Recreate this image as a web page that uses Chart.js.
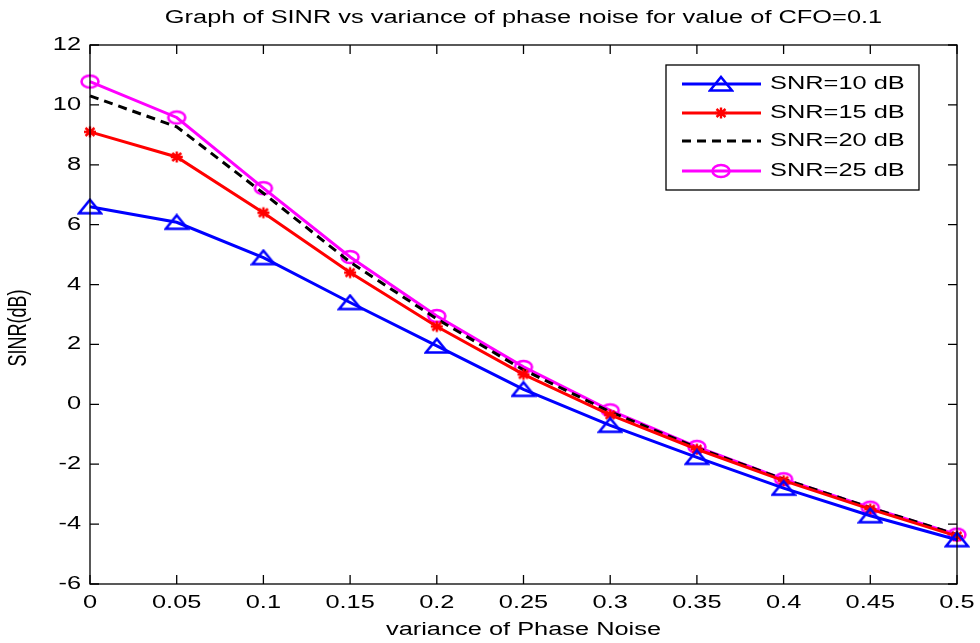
<!DOCTYPE html>
<html>
<head>
<meta charset="utf-8">
<script src="https://cdn.jsdelivr.net/npm/chart.js@4/dist/chart.umd.min.js"></script>
<style>
  html, body { margin: 0; padding: 0; background: #fff; }
  #wrap { width: 980px; height: 643px; }
</style>
</head>
<body>
<div id="wrap"><canvas id="myChart" width="980" height="643"></canvas></div>
<script>
// values
const phaseVar = [0, 0.05, 0.1, 0.15, 0.2, 0.25, 0.3, 0.35, 0.4, 0.45, 0.5];
const snr10 = [6.6, 6.08, 4.9, 3.4, 1.95, 0.5, -0.7, -1.77, -2.8, -3.72, -4.52];
const snr15 = [9.1, 8.26, 6.4, 4.4, 2.6, 1.0, -0.35, -1.5, -2.55, -3.5, -4.4];
const snr20 = [10.3, 9.27, 7.05, 4.75, 2.85, 1.15, -0.25, -1.45, -2.5, -3.45, -4.35];
const snr25 = [10.78, 9.58, 7.22, 4.92, 2.95, 1.25, -0.2, -1.42, -2.5, -3.45, -4.35];
const seriesLabels = ["SNR=10 dB", "SNR=15 dB", "SNR=20 dB", "SNR=25 dB"];
const xTicks = [0, 0.05, 0.1, 0.15, 0.2, 0.25, 0.3, 0.35, 0.4, 0.45, 0.5];
const yTicks = [-6, -4, -2, 0, 2, 4, 6, 8, 10, 12];
const xTickLabels = ["0", "0.05", "0.1", "0.15", "0.2", "0.25", "0.3", "0.35", "0.4", "0.45", "0.5"];

const FONT = "Liberation Sans, Arial, sans-serif";
const TXT = "18px " + FONT;
const SX = 1.41; // the figure's text is stretched sideways

function makeMarker(kind, color) {
  const c = document.createElement("canvas");
  // size first: resizing a canvas resets its context state
  if (kind === "tri") { c.width = 26; c.height = 18; }
  else if (kind === "circ") { c.width = 24; c.height = 18; }
  else { c.width = 16; c.height = 14; }
  const g = c.getContext("2d");
  g.strokeStyle = color;
  g.fillStyle = color;
  g.lineWidth = 2.6;
  g.beginPath();
  if (kind === "tri") {
    g.moveTo(13, 2); g.lineTo(24, 15.5); g.lineTo(2, 15.5); g.closePath();
  } else if (kind === "circ") {
    g.ellipse(12, 9, 8.5, 6, 0, 0, Math.PI * 2);
  } else {
    g.lineWidth = 2.4;
    g.moveTo(2, 7); g.lineTo(14, 7);
    g.moveTo(8, 1.5); g.lineTo(8, 12.5);
    g.moveTo(3.5, 3); g.lineTo(12.5, 11);
    g.moveTo(12.5, 3); g.lineTo(3.5, 11);
  }
  g.stroke();
  return c;
}

const triMark = makeMarker("tri", "#0000ff");
const starMark = makeMarker("star", "#ff0000");
const circMark = makeMarker("circ", "#ff00ff");

function stretchText(ctx, txt, x, y, align, sx, rot) {
  ctx.save();
  ctx.translate(x, y);
  ctx.scale(sx, 1);
  if (rot) ctx.rotate(rot);
  ctx.font = TXT;
  ctx.textAlign = align;
  ctx.textBaseline = "middle";
  ctx.fillStyle = "#000";
  ctx.fillText(txt, 0, 0);
  ctx.restore();
}

const framePlugin = {
  id: "frame",
  afterDraw(chart) {
    const ctx = chart.ctx;
    const a = chart.chartArea;
    const xs = chart.scales.x, ys = chart.scales.y;
    ctx.save();
    ctx.strokeStyle = "#000";
    ctx.lineWidth = 1.3;
    ctx.strokeRect(a.left, a.top, a.right - a.left, a.bottom - a.top);
    ctx.beginPath();
    yTicks.forEach(function (v) {
      const py = ys.getPixelForValue(v);
      ctx.moveTo(a.left, py); ctx.lineTo(a.left + 9, py);
      ctx.moveTo(a.right, py); ctx.lineTo(a.right - 9, py);
    });
    xTicks.forEach(function (v) {
      const px = xs.getPixelForValue(v);
      ctx.moveTo(px, a.bottom); ctx.lineTo(px, a.bottom - 9);
      ctx.moveTo(px, a.top); ctx.lineTo(px, a.top + 9);
    });
    ctx.stroke();
    ctx.restore();

    yTicks.forEach(function (v) {
      stretchText(ctx, String(v), a.left - 9, ys.getPixelForValue(v), "right", SX);
    });
    xTicks.forEach(function (v, i) {
      stretchText(ctx, xTickLabels[i], xs.getPixelForValue(v), a.bottom + 19, "center", SX);
    });

    stretchText(ctx, "Graph of SINR vs variance of phase noise for value of CFO=0.1",
      (a.left + a.right) / 2, 18, "center", SX);
    stretchText(ctx, "variance of Phase Noise", (a.left + a.right) / 2, 630, "center", SX);
    stretchText(ctx, "SINR(dB)", 19, 328, "center", SX, -Math.PI / 2);

    // legend box
    const lx = 666, ly = 65, lw = 253, lh = 125;
    ctx.save();
    ctx.fillStyle = "#fff";
    ctx.fillRect(lx, ly, lw, lh);
    ctx.strokeStyle = "#000";
    ctx.lineWidth = 1.3;
    ctx.strokeRect(lx, ly, lw, lh);
    const rows = [84, 113, 141, 171];
    chart.data.datasets.forEach(function (ds, i) {
      const ry = rows[i];
      ctx.save();
      ctx.strokeStyle = ds.borderColor;
      ctx.lineWidth = ds.borderWidth;
      ctx.setLineDash(ds.borderDash || []);
      ctx.beginPath();
      ctx.moveTo(682, ry); ctx.lineTo(761, ry);
      ctx.stroke();
      ctx.restore();
      const m = ds.pointStyle;
      if (m && typeof m !== "string") {
        ctx.drawImage(m, 721 - m.width / 2, ry - m.height / 2);
      }
      stretchText(ctx, ds.label, 770, ry, "left", SX);
    });
    ctx.restore();
  }
};

function series(label, vals, color, marker, dash) {
  return {
    label: label,
    data: phaseVar.map(function (x, i) { return { x: x, y: vals[i] }; }),
    borderColor: color,
    backgroundColor: color,
    borderWidth: 3,
    borderDash: dash || [],
    pointStyle: marker || false,
    pointRadius: marker ? 8 : 0,
    tension: 0,
    clip: false
  };
}

const ctx = document.querySelector("#myChart");
new Chart(ctx, {
  type: "line",
  data: {
    datasets: [
      series(seriesLabels[0], snr10, "#0000ff", triMark),
      series(seriesLabels[1], snr15, "#ff0000", starMark),
      series(seriesLabels[2], snr20, "#000000", null, [9, 6]),
      series(seriesLabels[3], snr25, "#ff00ff", circMark)
    ]
  },
  options: {
    responsive: false,
    animation: false,
    layout: { padding: { left: 0, top: 45, right: 23, bottom: 0 } },
    plugins: {
      legend: { display: false },
      title: { display: false },
      tooltip: { enabled: false }
    },
    scales: {
      x: {
        type: "linear",
        min: 0,
        max: 0.5,
        grid: { display: false },
        border: { display: false },
        ticks: { display: false },
        afterFit: function (s) { s.height = 59; }
      },
      y: {
        type: "linear",
        min: -6,
        max: 12,
        grid: { display: false },
        border: { display: false },
        ticks: { display: false },
        afterFit: function (s) { s.width = 90; }
      }
    }
  },
  plugins: [framePlugin]
});
</script>
</body>
</html>
